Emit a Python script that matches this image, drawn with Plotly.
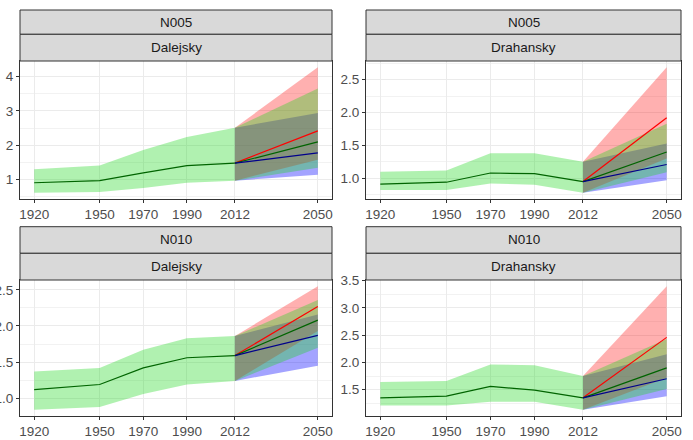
import plotly.graph_objects as go

# ---------------- data ----------------
regions = ["N005", "N005", "N010", "N010"]
sites = ["Dalejsky", "Drahansky", "Dalejsky", "Drahansky"]

hist_years = [1920, 1950, 1970, 1990, 2012]
fut_years = [2012, 2050]
x_ticks = [1920, 1950, 1970, 1990, 2012, 2050]

hist_mid = [
    [0.91, 0.97, 1.20, 1.41, 1.48],
    [0.91, 0.94, 1.08, 1.07, 0.95],
    [1.12, 1.19, 1.42, 1.56, 1.59],
    [1.35, 1.38, 1.56, 1.49, 1.35],
]
hist_hi = [
    [1.30, 1.41, 1.86, 2.24, 2.51],
    [1.10, 1.12, 1.38, 1.38, 1.25],
    [1.37, 1.42, 1.67, 1.83, 1.86],
    [1.64, 1.66, 1.96, 1.95, 1.75],
]
hist_lo = [
    [0.62, 0.64, 0.76, 0.91, 0.97],
    [0.82, 0.82, 0.92, 0.90, 0.78],
    [0.84, 0.88, 1.06, 1.19, 1.24],
    [1.21, 1.21, 1.28, 1.28, 1.13],
]

# 2050 projections per scenario
red_mid = [2.42, 1.92, 2.27, 2.46]
red_hi = [4.27, 2.69, 2.55, 3.40]
red_lo = [1.58, 1.30, 1.93, 1.72]
green_mid = [2.10, 1.40, 2.08, 1.90]
green_hi = [3.65, 1.83, 2.36, 2.43]
green_lo = [1.35, 1.09, 1.70, 1.51]
blue_mid = [1.78, 1.21, 1.87, 1.70]
blue_hi = [2.94, 1.53, 2.16, 2.15]
blue_lo = [1.14, 0.97, 1.45, 1.38]

y_ticks = [
    [1, 2, 3, 4],
    [1.0, 1.5, 2.0, 2.5],
    [1.0, 1.5, 2.0, 2.5],
    [1.5, 2.0, 2.5, 3.0, 3.5],
]
y_ticklabels = [
    ["1", "2", "3", "4"],
    ["1.0", "1.5", "2.0", "2.5"],
    ["1.0", "1.5", "2.0", "2.5"],
    ["1.5", "2.0", "2.5", "3.0", "3.5"],
]
y_minor = [0.5, 0.25, 0.25, 0.25]

# ---------------- layout geometry (pixels) ----------------
W, H = 693, 440
panel_x = [(20, 332), (366, 681), (20, 332), (366, 681)]
panel_y = [(61, 199), (61, 199), (280, 416), (280, 416)]
strip1_y = [(10, 34.3), (10, 34.3), (226.7, 253.3), (226.7, 253.3)]
strip2_y = [(34.3, 61), (34.3, 61), (253.3, 280), (253.3, 280)]

def fx(p):
    return p / W

def fy(p):
    return 1 - p / H

FONT = "Liberation Sans, Arial, sans-serif"
GREEN_FILL = "rgba(30,215,30,0.35)"
RED_FILL = "rgba(255,0,0,0.31)"
BLUE_FILL = "rgba(0,0,255,0.36)"

fig = go.Figure()
shapes = []
annotations = []

for i in range(4):
    sfx = "" if i == 0 else str(i + 1)
    xa, ya = "x" + sfx, "y" + sfx

    # historical band
    fig.add_trace(go.Scatter(
        x=hist_years + hist_years[::-1],
        y=hist_hi[i] + hist_lo[i][::-1],
        fill="toself", fillcolor=GREEN_FILL, line=dict(width=0),
        mode="lines", xaxis=xa, yaxis=ya, showlegend=False, hoverinfo="skip"))

    start_lo, start_hi, start_mid = hist_lo[i][-1], hist_hi[i][-1], hist_mid[i][-1]
    for lo, hi, fc in [(blue_lo, blue_hi, BLUE_FILL), (red_lo, red_hi, RED_FILL),
                       (green_lo, green_hi, GREEN_FILL)]:
        fig.add_trace(go.Scatter(
            x=fut_years + fut_years[::-1],
            y=[start_lo, lo[i], hi[i], start_hi],
            fill="toself", fillcolor=fc, line=dict(width=0),
            mode="lines", xaxis=xa, yaxis=ya, showlegend=False, hoverinfo="skip"))

    fig.add_trace(go.Scatter(
        x=hist_years, y=hist_mid[i], mode="lines",
        line=dict(color="#006400", width=1.2),
        xaxis=xa, yaxis=ya, showlegend=False, hoverinfo="skip"))
    for mid, col in [(red_mid, "#FF0000"), (green_mid, "#006400"), (blue_mid, "#00008B")]:
        fig.add_trace(go.Scatter(
            x=fut_years, y=[start_mid, mid[i]], mode="lines",
            line=dict(color=col, width=1.2),
            xaxis=xa, yaxis=ya, showlegend=False, hoverinfo="skip"))

    # axis ranges with 5% expansion (ggplot style)
    all_y = hist_lo[i] + hist_hi[i] + [red_hi[i], red_lo[i], green_hi[i], green_lo[i],
                                        blue_hi[i], blue_lo[i]]
    ymin, ymax = min(all_y), max(all_y)
    pad = 0.05 * (ymax - ymin)
    xpad = 0.05 * (max(x_ticks) - min(x_ticks))

    axis_common = dict(
        showline=True, mirror=True, linecolor="#333333", linewidth=1,
        ticks="outside", ticklen=3, tickwidth=1, tickcolor="#333333",
        showgrid=True, gridcolor="#EBEBEB", gridwidth=1, zeroline=False,
        automargin=False,
        tickfont=dict(family=FONT, size=13.5, color="#4D4D4D"),
    )
    fig.layout["xaxis" + sfx] = dict(
        axis_common,
        domain=[fx(panel_x[i][0]), fx(panel_x[i][1])],
        anchor=ya, range=[min(x_ticks) - xpad, max(x_ticks) + xpad],
        tickmode="array", tickvals=x_ticks, ticktext=[str(t) for t in x_ticks],
    )
    fig.layout["yaxis" + sfx] = dict(
        axis_common,
        domain=[fy(panel_y[i][1]), fy(panel_y[i][0])],
        anchor=xa, range=[ymin - pad, ymax + pad],
        tickmode="array", tickvals=y_ticks[i], ticktext=y_ticklabels[i],
        minor=dict(dtick=y_minor[i], showgrid=True, gridcolor="#F2F2F2", gridwidth=0.6,
                   ticks=""),
    )

    # strips
    for (y0, y1), label in [(strip1_y[i], regions[i]), (strip2_y[i], sites[i])]:
        shapes.append(dict(
            type="rect", xref="paper", yref="paper",
            x0=fx(panel_x[i][0]), x1=fx(panel_x[i][1]), y0=fy(y1), y1=fy(y0),
            fillcolor="#D9D9D9", line=dict(color="#333333", width=1), layer="above"))
        annotations.append(dict(
            xref="paper", yref="paper",
            x=fx((panel_x[i][0] + panel_x[i][1]) / 2), y=fy((y0 + y1) / 2),
            text=label, showarrow=False, xanchor="center", yanchor="middle",
            font=dict(family=FONT, size=13.5, color="#1A1A1A")))

fig.update_layout(
    width=W, height=H,
    margin=dict(l=0, r=0, t=0, b=0, autoexpand=False),
    paper_bgcolor="white", plot_bgcolor="white",
    shapes=shapes, annotations=annotations,
    showlegend=False,
)

fig.write_html(
    "out.html",
    config={"displayModeBar": False},
    post_script="document.body.style.margin='0';document.body.style.padding='0';"
                "document.documentElement.style.margin='0';",
)
